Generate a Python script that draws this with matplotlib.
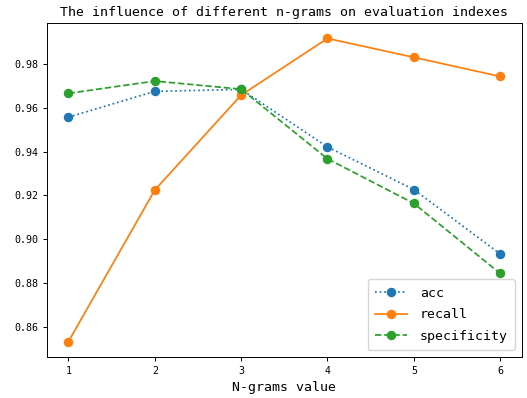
import matplotlib
matplotlib.use("Agg")
import matplotlib.pyplot as plt

# values
ngrams = [1, 2, 3, 4, 5, 6]
acc = [0.9557, 0.9674, 0.9683, 0.9421, 0.9227, 0.8934]
recall = [0.8535, 0.9225, 0.9657, 0.9915, 0.9829, 0.9742]
specificity = [0.9665, 0.9721, 0.9684, 0.9367, 0.9164, 0.8845]

plt.rcParams["font.family"] = ["DejaVu Sans Mono", "Noto Sans CJK SC"]

fig, ax = plt.subplots(figsize=(5.27, 3.98), dpi=100)
fig.subplots_adjust(left=0.089, right=0.99, top=0.9415, bottom=0.1038)

lw, ms = 1.25, 5.8
ax.plot(ngrams, acc, ":o", color="#1f77b4", lw=lw, ms=ms, label="acc")
ax.plot(ngrams, recall, "-o", color="#ff7f0e", lw=lw, ms=ms, label="recall")
ax.plot(ngrams, specificity, "--o", color="#2ca02c", lw=lw, ms=ms, label="specificity")

ax.set_title("The influence of different n-grams on evaluation indexes", fontsize=9.5, pad=5)
ax.set_xlabel("N-grams value", fontsize=9.5, labelpad=4)
ax.set_xticks(ngrams)
ax.set_yticks([0.86, 0.88, 0.90, 0.92, 0.94, 0.96, 0.98])
ax.tick_params(labelsize=7.2, length=3, width=0.7)
for s in ax.spines.values():
    s.set_linewidth(0.7)

ax.legend(loc="lower right", fontsize=9.5, handlelength=2.4,
          handletextpad=1.0, labelspacing=0.65, borderpad=0.55)

fig.savefig("out.png", dpi=100)
